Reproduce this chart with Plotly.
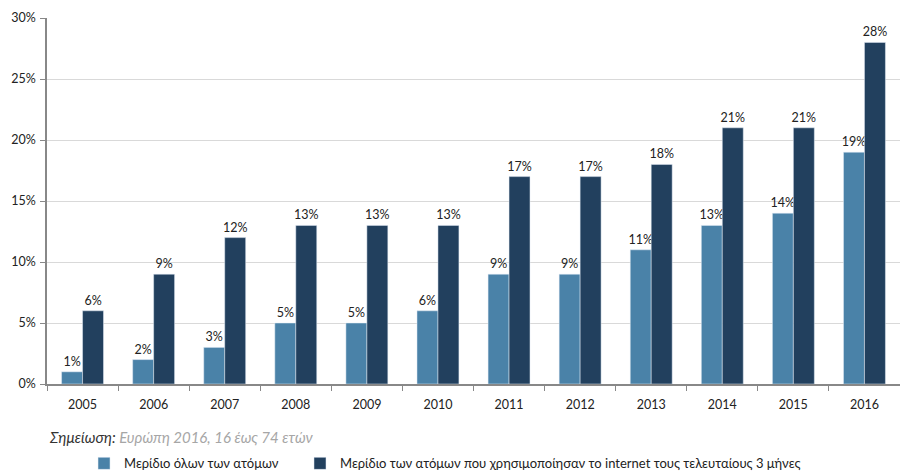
import plotly.graph_objects as go

years = ["2005", "2006", "2007", "2008", "2009", "2010", "2011", "2012", "2013", "2014", "2015", "2016"]
share_all = [1, 2, 3, 5, 5, 6, 9, 9, 11, 13, 14, 19]
share_users = [6, 9, 12, 13, 13, 13, 17, 17, 18, 21, 21, 28]
name_all = "Μερίδιο όλων των ατόμων"
name_users = "Μερίδιο των ατόμων που χρησιμοποίησαν το internet τους τελευταίους 3 μήνες"
y_ticks = [0, 5, 10, 15, 20, 25, 30]

FONT = "Lato"

fig = go.Figure()
fig.add_trace(go.Bar(
    x=years, y=share_all, name=name_all, legend="legend",
    marker=dict(color="#4a82a8"),
    text=[f"{v}%" for v in share_all], textposition="outside", constraintext="none",
    textfont=dict(size=12.5, color="#222222", family=FONT),
    cliponaxis=False,
))
fig.add_trace(go.Bar(
    x=years, y=share_users, name=name_users, legend="legend2",
    marker=dict(color="#22405e"),
    text=[f"{v}%" for v in share_users], textposition="outside", constraintext="none",
    textfont=dict(size=12.5, color="#222222", family=FONT),
    cliponaxis=False,
))

legend_common = dict(orientation="h", xanchor="left", y=-0.217, yanchor="middle",
                     font=dict(size=13, family=FONT, color="#222222"),
                     itemwidth=30, bgcolor="rgba(0,0,0,0)")

fig.update_layout(
    width=900, height=471,
    margin=dict(l=47, r=0, t=18, b=87, autoexpand=False),
    paper_bgcolor="white", plot_bgcolor="white",
    barmode="group", bargap=0.41, bargroupgap=0,
    font=dict(family=FONT, size=13, color="#222222"),
    showlegend=True,
    legend=dict(x=0.0434, **legend_common),
    legend2=dict(x=0.2966, **legend_common),
    annotations=[dict(
        text="<i>Σημείωση: </i><i><span style='color:#a6a6a6'>Ευρώπη 2016, 16 έως 74 ετών</span></i>",
        xref="paper", yref="paper", x=0.0, y=-0.145, xanchor="left", yanchor="middle",
        showarrow=False, font=dict(size=15, family=FONT, color="#333333"),
    )],
)
fig.update_xaxes(
    type="category", showgrid=False, showline=True, linecolor="#888888", linewidth=1.5,
    ticks="outside", tickson="boundaries", ticklen=5, tickcolor="#888888",
    tickfont=dict(size=12.5, family=FONT, color="#222222"),
    ticklabelstandoff=8,
)
fig.update_yaxes(
    range=[0, 30], tickvals=y_ticks, ticktext=[f"{v}%" for v in y_ticks],
    showgrid=True, gridcolor="#d9d9d9", gridwidth=1,
    showline=True, linecolor="#888888", linewidth=1.5,
    ticks="outside", ticklen=5, tickcolor="#888888",
    tickfont=dict(size=12.5, family=FONT, color="#222222"),
    ticklabelstandoff=2,
    zeroline=False,
)

fig.write_html("out.html", config={"displayModeBar": False},
               post_script="document.body.style.margin='0';document.body.style.padding='0';")
